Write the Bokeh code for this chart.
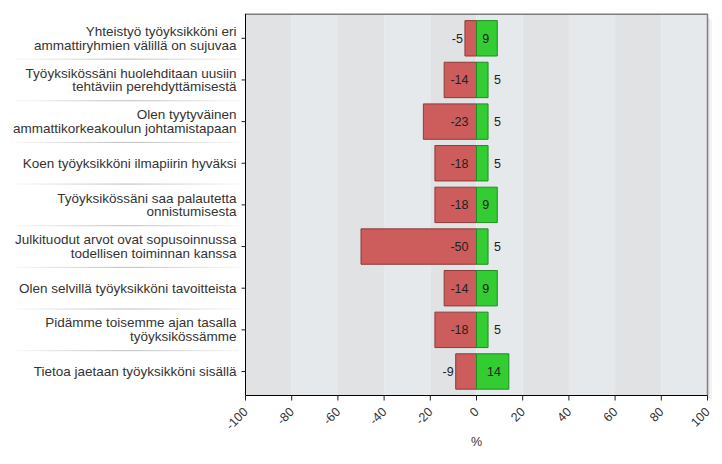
import math
from bokeh.plotting import figure
from bokeh.models import Range1d
from bokeh.core.properties import value
from bokeh.embed import file_html
from bokeh.resources import INLINE

# ---- data ----
categories = [
    "Yhteistyö työyksikköni eri\nammattiryhmien välillä on sujuvaa",
    "Työyksikössäni huolehditaan uusiin\ntehtäviin perehdyttämisestä",
    "Olen tyytyväinen\nammattikorkeakoulun johtamistapaan",
    "Koen työyksikköni ilmapiirin hyväksi",
    "Työyksikössäni saa palautetta\nonnistumisesta",
    "Julkituodut arvot ovat sopusoinnussa\ntodellisen toiminnan kanssa",
    "Olen selvillä työyksikköni tavoitteista",
    "Pidämme toisemme ajan tasalla\ntyöyksikössämme",
    "Tietoa jaetaan työyksikköni sisällä",
]
negative = [-5, -14, -23, -18, -18, -50, -14, -18, -9]
positive = [9, 5, 5, 5, 9, 5, 9, 5, 14]
x_ticks = [-100, -80, -60, -40, -20, 0, 20, 40, 60, 80, 100]
x_tick_labels = ["-100", "-80", "-60", "-40", "-20", "0", "20", "40", "60", "80", "100"]
axis_title = "%"

# ---- layout helpers (pixels -> data units) ----
FONT = value("Liberation Sans")
PLOT_W = 462                     # px for -100..100
PXU = PLOT_W / 200.0
ROW = 41.65                      # px per category row
LABEL_W = 237
RIGHT_PAD = 7
FRAME_W = LABEL_W + PLOT_W + RIGHT_PAD
FRAME_H = 443
def dx(px): return px / PXU
def dy(px): return px / ROW

n = len(categories)
idx = list(range(n))
YT = -dy(24.8)                   # top of plot area (= top of frame)
PB = (n - 1) + dy(24.0)          # bottom of plot area (x axis)
YBF = YT + dy(FRAME_H)           # bottom of frame
XS = -100 - dx(LABEL_W)
XE = 100 + dx(RIGHT_PAD)

p = figure(frame_width=FRAME_W, frame_height=FRAME_H,
           x_range=Range1d(XS, XE), y_range=Range1d(YBF, YT),
           output_backend="svg", toolbar_location=None,
           x_axis_location=None, y_axis_location=None,
           min_border_left=8, min_border_right=0,
           min_border_top=13, min_border_bottom=0)
p.grid.visible = False
p.outline_line_color = None
p.background_fill_color = "white"
p.border_fill_color = "white"

# shadow right of the plot area
p.quad(left=[100 + dx(0.5)], right=[100 + dx(2.5)], top=[YT + dy(5)], bottom=[PB + dy(3)],
       fill_color="#e8e8e8", line_color=None)
p.quad(left=[100 + dx(2.5)], right=[100 + dx(4.5)], top=[YT + dy(6)], bottom=[PB + dy(4)],
       fill_color="#f3f3f3", line_color=None)

# alternating background bands
band_l = x_ticks[:-1]
band_r = x_ticks[1:]
band_c = ["#e1e2e4" if i % 2 == 0 else "#e6e9ec" for i in range(len(band_l))]
p.quad(left=band_l, right=band_r, bottom=PB, top=YT, fill_color=band_c,
       line_color=None)

# bars
p.hbar(y=idx, left=negative, right=0, height=0.85,
       fill_color="#cd5c5c", line_color="#8b3a3a", line_width=1)
p.hbar(y=idx, left=0, right=positive, height=0.85,
       fill_color="#33cc33", line_color="#228b22", line_width=1)

# plot-area border
p.segment(x0=[-100], y0=[YT], x1=[100], y1=[YT], line_color="#7f7f7f", line_width=3)
p.segment(x0=[100], y0=[YT], x1=[100], y1=[PB], line_color="#7f7f7f", line_width=1.5)
p.segment(x0=[-100], y0=[YT], x1=[-100], y1=[PB], line_color="black", line_width=1)
p.segment(x0=[-100], y0=[PB], x1=[100], y1=[PB], line_color="black", line_width=1)

# x ticks and labels
p.segment(x0=x_ticks, y0=[PB] * len(x_ticks), x1=x_ticks,
          y1=[PB + dy(5)] * len(x_ticks), line_color="#222222", line_width=1)
p.text(x=x_ticks, y=[PB + dy(14)] * len(x_ticks), text=x_tick_labels,
       angle=math.pi / 4, text_align="right", text_baseline="middle",
       text_font=FONT, text_font_size="12.5px", text_color="#333333")
p.text(x=[0], y=[PB + dy(46.5)], text=[axis_title], text_align="center",
       text_baseline="middle", text_font=FONT, text_font_size="12.5px",
       text_color="#333333")

# y ticks
p.segment(x0=[-100 - dx(4)] * n, y0=idx, x1=[-100] * n, y1=idx,
          line_color="#222222", line_width=1)

# separators in the label area (soft gradient)
seg_n = 30
sx0, sx1 = XS + dx(7), -100 - dx(5)
ys = [i + 0.5 for i in range(n - 1)]
for k in range(seg_n):
    a0 = sx0 + (sx1 - sx0) * k / seg_n
    a1 = sx0 + (sx1 - sx0) * (k + 1) / seg_n
    t = (k + 0.5) / seg_n
    alpha = 0.08 + 0.7 * (1 - abs(t - 0.5) * 2)
    p.segment(x0=[a0] * len(ys), y0=ys, x1=[a1] * len(ys), y1=ys,
              line_color="#a8a8a8", line_alpha=alpha, line_width=1)

# category labels
p.text(x=[-100] * n, y=idx, text=categories, text_align="right",
       text_baseline="middle", x_offset=-9, text_font=FONT,
       text_font_size="13.5px", text_color="#333333", text_line_height=0.92)

# value labels
neg_in = [(i, v) for i, v in zip(idx, negative) if abs(v) * PXU > 25]
neg_out = [(i, v) for i, v in zip(idx, negative) if abs(v) * PXU <= 25]
pos_in = [(i, v) for i, v in zip(idx, positive) if v * PXU > 15]
pos_out = [(i, v) for i, v in zip(idx, positive) if v * PXU <= 15]

def txt(items, xs, align, xoff):
    if not items:
        return
    p.text(x=xs, y=[i for i, _ in items], text=[str(v) for _, v in items],
           text_align=align, text_baseline="middle", x_offset=xoff,
           text_font=FONT, text_font_size="12.5px", text_color="#222222")

txt(neg_in, [0] * len(neg_in), "right", -8)
txt(neg_out, [v for _, v in neg_out], "right", -2)
txt(pos_in, [v for _, v in pos_in], "right", -8)
txt(pos_out, [v for _, v in pos_out], "left", 6)

open("out.html", "w").write(file_html(p, INLINE))
